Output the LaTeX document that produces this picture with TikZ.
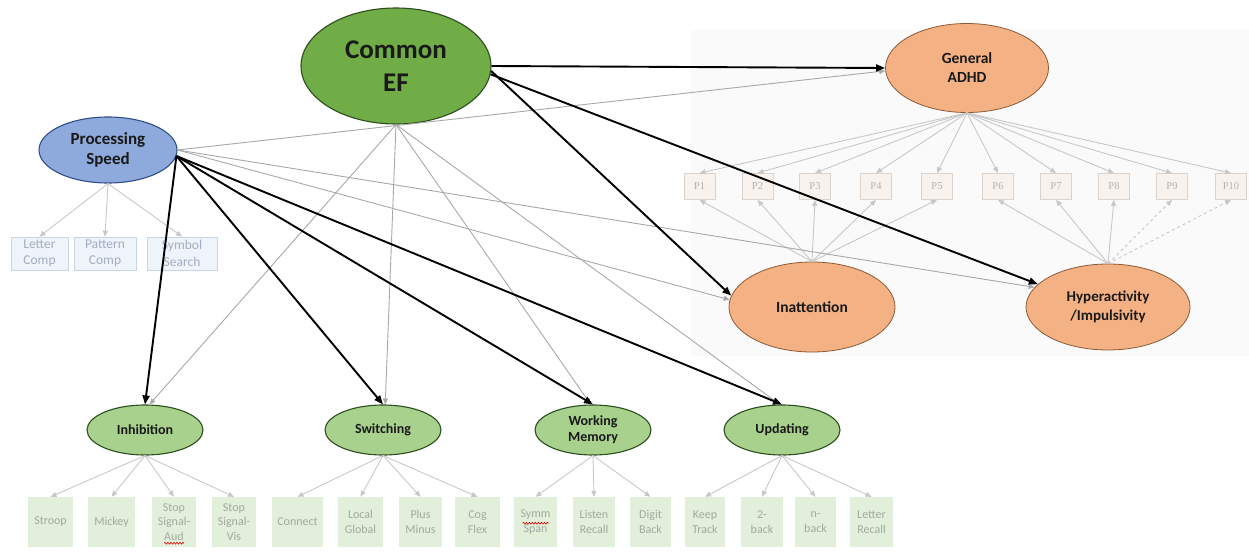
\documentclass[tikz,border=0pt]{standalone}
\usepackage{fontspec}
\setmainfont{Carlito}
\newfontfamily\pfont{Liberation Serif}
\usetikzlibrary{shapes.geometric,arrows.meta,decorations.pathmorphing}

\definecolor{efgreen}{HTML}{70AD47}
\definecolor{efsubfill}{HTML}{A9D18E}
\definecolor{efline}{HTML}{2E4D1E}
\definecolor{psblue}{HTML}{8EA9DB}
\definecolor{psline}{HTML}{2F4F8A}
\definecolor{adhdorange}{HTML}{F4B183}
\definecolor{adhdline}{HTML}{8C5A38}
\definecolor{panelgrey}{HTML}{FAFAFA}
\definecolor{psboxfill}{HTML}{EFF3FA}
\definecolor{psboxline}{HTML}{C9D3E6}
\definecolor{psboxtext}{HTML}{A3AEC2}
\definecolor{pboxfill}{HTML}{F8F2EE}
\definecolor{pboxline}{HTML}{DDD3CC}
\definecolor{ptext}{HTML}{B9B0A8}
\definecolor{taskfill}{HTML}{E2EFDA}
\definecolor{tasktext}{HTML}{A2AAA0}
\definecolor{wgrey}{HTML}{A8A8A8}
\definecolor{lgrey}{HTML}{C8C8C8}

\tikzset{
  lat/.style={ellipse, draw, line width=1.1pt, inner sep=0pt, align=center,
    text=black!90},
  efbig/.style={lat, fill=efgreen, draw=efline,
    font=\bfseries\fontsize{27}{33}\selectfont},
  efsub/.style={lat, fill=efsubfill, draw=efline, minimum width=116pt,
    minimum height=50pt, font=\bfseries\fontsize{14}{16}\selectfont},
  speed/.style={lat, fill=psblue, draw=psline,
    font=\bfseries\fontsize{17}{20}\selectfont},
  adhd/.style={lat, fill=adhdorange, draw=adhdline, line width=0.8pt,
    font=\bfseries\fontsize{15.5}{19}\selectfont},
  psbox/.style={rectangle, draw=psboxline, fill=psboxfill, line width=0.8pt,
    minimum height=33pt, inner sep=0pt, align=center, text=psboxtext,
    font=\fontsize{13.5}{16.5}\selectfont},
  pbox/.style={rectangle, draw=pboxline, fill=pboxfill, line width=0.8pt,
    minimum width=31pt, minimum height=26pt, inner sep=0pt, text=ptext,
    font=\pfont\fontsize{10.5}{12}\selectfont},
  taskbox/.style={rectangle, fill=taskfill, minimum height=50pt, inner sep=0pt,
    align=center, text=tasktext, font=\fontsize{12}{14.5}\selectfont},
  pathstrong/.style={draw=black, line width=1.9pt, -{Triangle[length=9pt,width=7pt]}},
  pathweak/.style={draw=wgrey, line width=0.9pt, -{Triangle[length=6pt,width=5pt]}},
  pathind/.style={draw=lgrey, line width=0.9pt, -{Triangle[length=6pt,width=5pt]}},
  squiggle/.style={draw=red!85!black, line width=0.6pt, decorate,
    decoration={snake, amplitude=0.9pt, segment length=3pt}}
}

\begin{document}
\begin{tikzpicture}[x=1pt,y=-1pt]
\useasboundingbox (0,0) rectangle (1249,554);

% faint panel behind the ADHD part
\fill[panelgrey] (690,30) rectangle (1249,356);

% latent factors
\node[efbig, minimum width=190pt, minimum height=116pt] (cef) at (396,66) {Common\\EF};
\node[speed, minimum width=138pt, minimum height=66pt] (ps) at (108,150) {Processing\\Speed};
\node[adhd, minimum width=163pt, minimum height=89pt] (adhd) at (967,68) {General\\ADHD};
\node[adhd, minimum width=166pt, minimum height=90pt] (inatt) at (812,307) {Inattention};
\node[adhd, minimum width=164pt, minimum height=86pt,
      font=\bfseries\fontsize{15}{19}\selectfont] (hyper) at (1108,307) {Hyperactivity\\/Impulsivity};

\node[efsub] (inh) at (145,430) {Inhibition};
\node[efsub] (sw)  at (383,430) {Switching};
\node[efsub] (wm)  at (593,430) {Working\\Memory};
\node[efsub] (upd) at (782,430) {Updating};

% processing speed tasks
\node[psbox, minimum width=57pt] (lc) at (39.5,253.5) {Letter\\Comp};
\node[psbox, minimum width=62pt] (pc) at (105,253.5) {Pattern\\Comp};
\node[psbox, minimum width=70pt] (ss) at (182,253.5) {Symbol\\Search};

% ADHD symptom items
\foreach \i/\x in {1/699.5,2/757.5,3/815,4/876,5/937,6/998,7/1056,8/1114,9/1172,10/1231}
  \node[pbox] (p\i) at (\x,186.5) {P\i};

% executive function tasks
\node[taskbox, minimum width=45pt] (stroop) at (50.5,522) {Stroop};
\node[taskbox, minimum width=47pt] (mickey) at (111.5,522) {Mickey};
\node[taskbox, minimum width=44pt] (saud)   at (174,522) {Stop\\Signal-\\Aud};
\node[taskbox, minimum width=44pt] (svis)   at (234,522) {Stop\\Signal-\\Vis};
\node[taskbox, minimum width=51pt] (conn)   at (297.5,522) {Connect};
\node[taskbox, minimum width=45pt] (lg)     at (360.5,522) {Local\\Global};
\node[taskbox, minimum width=43pt] (pm)     at (420.5,522) {Plus\\Minus};
\node[taskbox, minimum width=45pt] (cog)    at (477.5,522) {Cog\\Flex};
\node[taskbox, minimum width=43pt] (symm)   at (535.5,522) {Symm\\Span};
\node[taskbox, minimum width=42pt] (lr)     at (594,522) {Listen\\Recall};
\node[taskbox, minimum width=41pt] (db)     at (650.5,522) {Digit\\Back};
\node[taskbox, minimum width=40pt] (kt)     at (705,522) {Keep\\Track};
\node[taskbox, minimum width=42pt] (twob)   at (762,522) {2-\\back};
\node[taskbox, minimum width=41pt] (nb)     at (815.5,522) {n-\\back};
\node[taskbox, minimum width=43pt] (ltr)    at (871.5,522) {Letter\\Recall};

% spell-check marks
\draw[squiggle] ([xshift=-10pt,yshift=4pt]saud.south) -- ([xshift=10pt,yshift=4pt]saud.south);
\draw[squiggle] ([xshift=-13pt,yshift=24pt]symm.south) -- ([xshift=13pt,yshift=24pt]symm.south);

% measurement arrows
\foreach \b in {lc,pc,ss} \draw[pathind] (ps.south) -- (\b.north);
\foreach \i in {1,...,10} \draw[pathind] (adhd.south) -- (p\i.north);
\foreach \i in {1,...,5} \draw[pathind] (inatt.north) -- (p\i.south);
\foreach \i in {6,7,8} \draw[pathind] (hyper.north) -- (p\i.south);
\foreach \i in {9,10} \draw[pathind, dashed] (hyper.north) -- (p\i.south);
\foreach \b in {stroop,mickey,saud,svis} \draw[pathind] (inh.south) -- (\b.north);
\foreach \b in {conn,lg,pm,cog} \draw[pathind] (sw.south) -- (\b.north);
\foreach \b in {symm,lr,db} \draw[pathind] (wm.south) -- (\b.north);
\foreach \b in {kt,twob,nb,ltr} \draw[pathind] (upd.south) -- (\b.north);

% common EF to the EF components
\draw[pathweak] (cef.south) -- (inh.80);
\draw[pathweak] (cef.south) -- (sw.85);
\draw[pathweak] (cef.south) -- (wm.95);
\draw[pathweak] (cef.south) -- (upd.95);

% processing speed to the ADHD factors
\draw[pathweak] (ps.east) -- (adhd.182);
\draw[pathweak] (ps.east) -- (inatt.175);
\draw[pathweak] (ps.east) -- (hyper.165);

% processing speed to the EF components
\draw[pathstrong] (ps.-5) -- (inh.north);
\draw[pathstrong] (ps.-5) -- (sw.north);
\draw[pathstrong] (ps.-5) -- (wm.north);
\draw[pathstrong] (ps.-5) -- (upd.north);

% common EF to the ADHD factors
\draw[pathstrong] (cef.east) -- (adhd.west);
\draw[pathstrong] (cef.-3) -- (inatt.172);
\draw[pathstrong] (cef.-5) -- (hyper.162);
\end{tikzpicture}
\end{document}
